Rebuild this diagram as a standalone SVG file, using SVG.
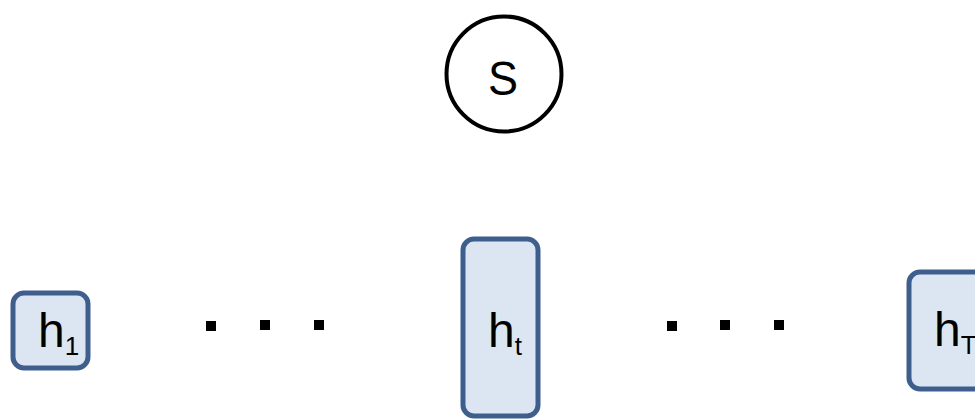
<svg xmlns="http://www.w3.org/2000/svg" width="975" height="419" viewBox="0 0 975 419">
<style>
.box{fill:#DCE6F2;stroke:#3E5F8E;stroke-width:5}
.lbl{font-family:"Liberation Sans",Arial,sans-serif;font-size:48px;fill:#000}
.sub{font-family:"Liberation Sans",Arial,sans-serif;font-size:26px;fill:#000}
.dot{fill:#000}
</style>
<rect width="975" height="419" fill="#fff"/>
<g id="S">
<circle cx="504" cy="74" r="57.5" fill="#fff" stroke="#000" stroke-width="4"/>
<text x="503" y="95" text-anchor="middle" class="lbl" font-size="57" textLength="30" lengthAdjust="spacingAndGlyphs">S</text>
</g>
<g id="h1">
<rect class="box" x="13" y="293" width="75" height="75" rx="11"/>
<text x="38" y="347" class="lbl">h<tspan class="sub" dy="8">1</tspan></text>
</g>
<g id="ht">
<rect class="box" x="463" y="239" width="75" height="177" rx="11"/>
<text x="488" y="347" class="lbl">h<tspan class="sub" dy="8">t</tspan></text>
</g>
<g id="hT">
<rect class="box" x="909" y="272" width="90" height="117" rx="11"/>
<text x="934" y="346" class="lbl">h<tspan class="sub" dy="8">T</tspan></text>
</g>
<g id="dots-left">
<rect class="dot" x="206" y="321" width="10" height="10"/>
<rect class="dot" x="260" y="320" width="10" height="10"/>
<rect class="dot" x="314" y="320" width="10" height="10"/>
</g>
<g id="dots-right">
<rect class="dot" x="667" y="321" width="10" height="10"/>
<rect class="dot" x="720" y="320" width="10" height="10"/>
<rect class="dot" x="774" y="320" width="10" height="10"/>
</g>
<g id="connectors"></g>
</svg>
